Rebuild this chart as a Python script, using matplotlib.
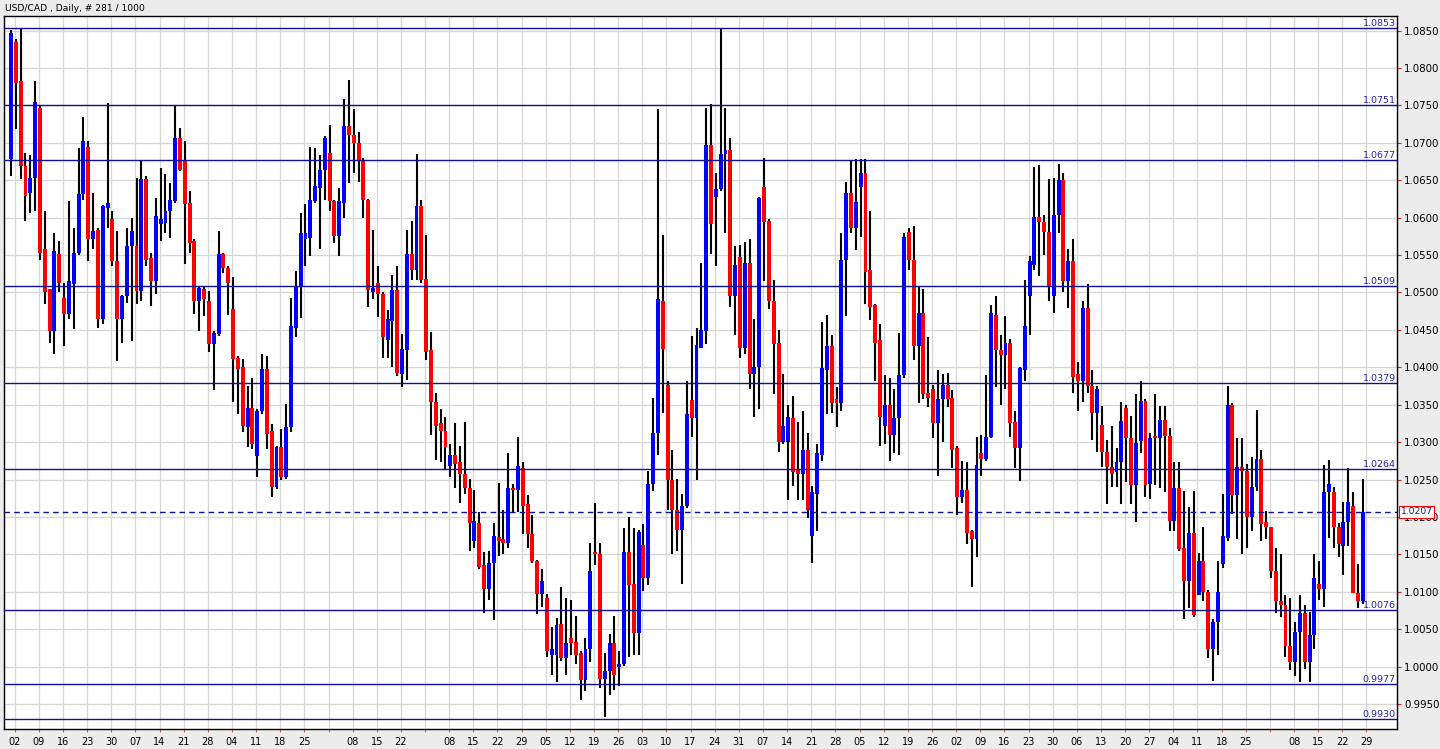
import numpy as np
import matplotlib
matplotlib.use("Agg")
import matplotlib.pyplot as plt

# USD/CAD daily bars (281)
opens = [
    1.0678, 1.0835, 1.0782, 1.0669, 1.0633, 1.0653, 1.0746, 1.0558, 1.0504, 1.0449,
    1.0551, 1.0493, 1.0471, 1.0511, 1.0553, 1.0631, 1.0695, 1.0571, 1.0584, 1.0464,
    1.0613, 1.0598, 1.0542, 1.0464, 1.0495, 1.0562, 1.0562, 1.0502, 1.0651, 1.0546,
    1.0515, 1.0591, 1.0593, 1.0609, 1.0622, 1.0706, 1.0675, 1.0620, 1.0569, 1.0489,
    1.0504, 1.0489, 1.0431, 1.0444, 1.0551, 1.0533, 1.0478, 1.0413, 1.0400, 1.0320,
    1.0346, 1.0282, 1.0342, 1.0398, 1.0315, 1.0240, 1.0293, 1.0253, 1.0320, 1.0453,
    1.0509, 1.0571, 1.0573, 1.0622, 1.0640, 1.0664, 1.0686, 1.0622, 1.0575, 1.0620,
    1.0722, 1.0711, 1.0700, 1.0677, 1.0623, 1.0501, 1.0513, 1.0498, 1.0437, 1.0462,
    1.0503, 1.0391, 1.0423, 1.0552, 1.0530, 1.0616, 1.0518, 1.0423, 1.0354, 1.0325,
    1.0315, 1.0268, 1.0283, 1.0273, 1.0258, 1.0239, 1.0168, 1.0192, 1.0136, 1.0104,
    1.0138, 1.0173, 1.0170, 1.0165, 1.0239, 1.0236, 1.0266, 1.0217, 1.0177, 1.0141,
    1.0097, 1.0092, 1.0016, 1.0016, 1.0057, 1.0011, 1.0038, 1.0033, 1.0018, 0.9982,
    1.0023, 1.0153, 1.0151, 0.9984, 0.9994, 1.0031, 0.9999, 1.0004, 1.0153, 1.0111,
    1.0045, 1.0163, 1.0119, 1.0244, 1.0312, 1.0489, 1.0376, 1.0249, 1.0209, 1.0182,
    1.0214, 1.0356, 1.0332, 1.0426, 1.0448, 1.0697, 1.0628, 1.0638, 1.0685, 1.0690,
    1.0495, 1.0547, 1.0426, 1.0539, 1.0391, 1.0401, 1.0641, 1.0596, 1.0488, 1.0433,
    1.0300, 1.0300, 1.0332, 1.0263, 1.0258, 1.0290, 1.0174, 1.0231, 1.0283, 1.0396,
    1.0428, 1.0357, 1.0352, 1.0544, 1.0633, 1.0586, 1.0641, 1.0660, 1.0530, 1.0483,
    1.0436, 1.0322, 1.0349, 1.0310, 1.0332, 1.0389, 1.0581, 1.0544, 1.0428, 1.0473,
    1.0366, 1.0371, 1.0325, 1.0357, 1.0376, 1.0359, 1.0292, 1.0226, 1.0236, 1.0181,
    1.0171, 1.0285, 1.0278, 1.0307, 1.0470, 1.0423, 1.0416, 1.0433, 1.0327, 1.0292,
    1.0396, 1.0495, 1.0537, 1.0601, 1.0594, 1.0581, 1.0495, 1.0603, 1.0650, 1.0515,
    1.0542, 1.0391, 1.0382, 1.0479, 1.0375, 1.0339, 1.0323, 1.0287, 1.0267, 1.0260,
    1.0274, 1.0346, 1.0305, 1.0242, 1.0301, 1.0355, 1.0244, 1.0308, 1.0305, 1.0330,
    1.0308, 1.0195, 1.0238, 1.0159, 1.0114, 1.0179, 1.0096, 1.0141, 1.0100, 1.0024,
    1.0060, 1.0137, 1.0172, 1.0350, 1.0229, 1.0267, 1.0261, 1.0200, 1.0240, 1.0278,
    1.0193, 1.0186, 1.0128, 1.0087, 1.0082, 1.0028, 1.0006, 1.0046, 1.0071, 1.0006,
    1.0042, 1.0110, 1.0104, 1.0233, 1.0233, 1.0186, 1.0161, 1.0193, 1.0215, 1.0099, 1.0087,
]
highs = [
    1.0851, 1.0838, 1.0853, 1.0686, 1.0684, 1.0783, 1.0751, 1.0609, 1.0504, 1.0580,
    1.0569, 1.0513, 1.0622, 1.0586, 1.0693, 1.0735, 1.0702, 1.0633, 1.0586, 1.0617,
    1.0753, 1.0609, 1.0582, 1.0497, 1.0586, 1.0600, 1.0653, 1.0675, 1.0655, 1.0553,
    1.0626, 1.0666, 1.0658, 1.0646, 1.0749, 1.0720, 1.0702, 1.0635, 1.0572, 1.0508,
    1.0507, 1.0502, 1.0448, 1.0582, 1.0553, 1.0535, 1.0520, 1.0415, 1.0411, 1.0375,
    1.0386, 1.0344, 1.0418, 1.0415, 1.0324, 1.0295, 1.0318, 1.0351, 1.0493, 1.0529,
    1.0606, 1.0618, 1.0695, 1.0693, 1.0684, 1.0709, 1.0724, 1.0624, 1.0640, 1.0758,
    1.0784, 1.0745, 1.0715, 1.0680, 1.0625, 1.0584, 1.0535, 1.0501, 1.0476, 1.0523,
    1.0535, 1.0445, 1.0584, 1.0596, 1.0685, 1.0623, 1.0577, 1.0447, 1.0366, 1.0344,
    1.0334, 1.0298, 1.0325, 1.0295, 1.0327, 1.0251, 1.0236, 1.0207, 1.0153, 1.0155,
    1.0192, 1.0246, 1.0209, 1.0285, 1.0244, 1.0307, 1.0273, 1.0229, 1.0202, 1.0143,
    1.0131, 1.0097, 1.0053, 1.0065, 1.0106, 1.0092, 1.0089, 1.0067, 1.0021, 1.0038,
    1.0165, 1.0219, 1.0165, 1.0018, 1.0043, 1.0067, 1.0021, 1.0185, 1.0200, 1.0185,
    1.0182, 1.0190, 1.0261, 1.0359, 1.0745, 1.0577, 1.0381, 1.0290, 1.0251, 1.0231,
    1.0381, 1.0442, 1.0452, 1.0539, 1.0747, 1.0752, 1.0660, 1.0853, 1.0747, 1.0707,
    1.0562, 1.0564, 1.0567, 1.0572, 1.0465, 1.0628, 1.0680, 1.0598, 1.0517, 1.0450,
    1.0391, 1.0349, 1.0362, 1.0327, 1.0342, 1.0312, 1.0241, 1.0297, 1.0460, 1.0470,
    1.0443, 1.0374, 1.0579, 1.0648, 1.0675, 1.0678, 1.0678, 1.0678, 1.0609, 1.0485,
    1.0458, 1.0389, 1.0386, 1.0371, 1.0446, 1.0579, 1.0586, 1.0589, 1.0507, 1.0505,
    1.0441, 1.0376, 1.0396, 1.0391, 1.0393, 1.0369, 1.0295, 1.0275, 1.0273, 1.0183,
    1.0307, 1.0310, 1.0389, 1.0483, 1.0495, 1.0443, 1.0468, 1.0438, 1.0342, 1.0401,
    1.0517, 1.0549, 1.0668, 1.0670, 1.0603, 1.0651, 1.0653, 1.0672, 1.0660, 1.0558,
    1.0572, 1.0407, 1.0488, 1.0511, 1.0396, 1.0375, 1.0348, 1.0303, 1.0321, 1.0292,
    1.0353, 1.0350, 1.0335, 1.0364, 1.0382, 1.0357, 1.0312, 1.0364, 1.0348, 1.0348,
    1.0319, 1.0274, 1.0274, 1.0235, 1.0213, 1.0235, 1.0152, 1.0186, 1.0102, 1.0064,
    1.0141, 1.0231, 1.0375, 1.0352, 1.0305, 1.0305, 1.0271, 1.0280, 1.0343, 1.0289,
    1.0208, 1.0186, 1.0159, 1.0150, 1.0096, 1.0091, 1.0060, 1.0096, 1.0082, 1.0073,
    1.0150, 1.0141, 1.0269, 1.0276, 1.0240, 1.0192, 1.0220, 1.0266, 1.0233, 1.0137, 1.0251,
]
lows = [
    1.0655, 1.0718, 1.0651, 1.0595, 1.0606, 1.0609, 1.0544, 1.0484, 1.0433, 1.0418,
    1.0500, 1.0429, 1.0464, 1.0451, 1.0550, 1.0624, 1.0542, 1.0558, 1.0453, 1.0458,
    1.0586, 1.0535, 1.0409, 1.0433, 1.0486, 1.0435, 1.0484, 1.0489, 1.0535, 1.0482,
    1.0498, 1.0569, 1.0580, 1.0573, 1.0620, 1.0662, 1.0538, 1.0553, 1.0471, 1.0449,
    1.0469, 1.0420, 1.0369, 1.0442, 1.0526, 1.0470, 1.0353, 1.0338, 1.0313, 1.0293,
    1.0291, 1.0253, 1.0338, 1.0291, 1.0226, 1.0237, 1.0249, 1.0251, 1.0313, 1.0440,
    1.0466, 1.0535, 1.0549, 1.0620, 1.0558, 1.0624, 1.0609, 1.0566, 1.0549, 1.0600,
    1.0646, 1.0660, 1.0648, 1.0599, 1.0481, 1.0491, 1.0467, 1.0413, 1.0413, 1.0400,
    1.0388, 1.0373, 1.0383, 1.0516, 1.0516, 1.0513, 1.0410, 1.0310, 1.0276, 1.0273,
    1.0263, 1.0253, 1.0239, 1.0219, 1.0231, 1.0155, 1.0158, 1.0131, 1.0072, 1.0089,
    1.0062, 1.0148, 1.0151, 1.0158, 1.0207, 1.0207, 1.0177, 1.0158, 1.0138, 1.0070,
    1.0079, 1.0013, 0.9989, 0.9979, 1.0008, 0.9989, 1.0016, 1.0004, 0.9955, 0.9967,
    1.0006, 1.0136, 0.9972, 0.9932, 0.9962, 0.9969, 0.9974, 1.0001, 1.0013, 1.0016,
    1.0016, 1.0101, 1.0109, 1.0234, 1.0283, 1.0339, 1.0209, 1.0151, 1.0155, 1.0111,
    1.0212, 1.0307, 1.0249, 1.0426, 1.0431, 1.0552, 1.0535, 1.0636, 1.0579, 1.0480,
    1.0443, 1.0413, 1.0418, 1.0371, 1.0334, 1.0344, 1.0515, 1.0478, 1.0364, 1.0287,
    1.0297, 1.0223, 1.0241, 1.0223, 1.0223, 1.0199, 1.0139, 1.0181, 1.0275, 1.0337,
    1.0339, 1.0320, 1.0342, 1.0468, 1.0579, 1.0557, 1.0574, 1.0485, 1.0463, 1.0381,
    1.0295, 1.0297, 1.0275, 1.0285, 1.0283, 1.0386, 1.0530, 1.0410, 1.0352, 1.0357,
    1.0347, 1.0305, 1.0255, 1.0300, 1.0347, 1.0265, 1.0203, 1.0218, 1.0164, 1.0107,
    1.0147, 1.0255, 1.0275, 1.0305, 1.0374, 1.0349, 1.0371, 1.0307, 1.0265, 1.0248,
    1.0381, 1.0443, 1.0530, 1.0522, 1.0550, 1.0488, 1.0472, 1.0580, 1.0500, 1.0479,
    1.0366, 1.0342, 1.0353, 1.0366, 1.0303, 1.0287, 1.0267, 1.0217, 1.0240, 1.0240,
    1.0217, 1.0247, 1.0217, 1.0193, 1.0285, 1.0226, 1.0224, 1.0242, 1.0238, 1.0233,
    1.0181, 1.0181, 1.0154, 1.0064, 1.0078, 1.0066, 1.0096, 1.0087, 1.0012, 0.9981,
    1.0015, 1.0132, 1.0168, 1.0204, 1.0170, 1.0150, 1.0159, 1.0181, 1.0235, 1.0168,
    1.0170, 1.0119, 1.0071, 1.0066, 1.0013, 0.9996, 0.9988, 0.9979, 0.9997, 0.9979,
    1.0024, 1.0089, 1.0080, 1.0172, 1.0159, 1.0146, 1.0123, 1.0161, 1.0098, 1.0078, 1.0084,
]
closes = [
    1.0847, 1.0780, 1.0669, 1.0629, 1.0653, 1.0755, 1.0553, 1.0500, 1.0449, 1.0555,
    1.0513, 1.0471, 1.0515, 1.0553, 1.0631, 1.0702, 1.0571, 1.0582, 1.0464, 1.0615,
    1.0620, 1.0542, 1.0464, 1.0495, 1.0562, 1.0582, 1.0502, 1.0651, 1.0544, 1.0515,
    1.0602, 1.0598, 1.0609, 1.0624, 1.0706, 1.0664, 1.0618, 1.0566, 1.0489, 1.0506,
    1.0491, 1.0431, 1.0446, 1.0551, 1.0533, 1.0513, 1.0411, 1.0398, 1.0322, 1.0346,
    1.0298, 1.0342, 1.0398, 1.0311, 1.0240, 1.0293, 1.0253, 1.0320, 1.0455, 1.0509,
    1.0580, 1.0580, 1.0624, 1.0642, 1.0664, 1.0706, 1.0622, 1.0575, 1.0622, 1.0722,
    1.0711, 1.0700, 1.0677, 1.0623, 1.0503, 1.0506, 1.0498, 1.0440, 1.0464, 1.0503,
    1.0393, 1.0425, 1.0552, 1.0530, 1.0616, 1.0516, 1.0420, 1.0354, 1.0322, 1.0315,
    1.0293, 1.0283, 1.0271, 1.0258, 1.0239, 1.0192, 1.0195, 1.0133, 1.0104, 1.0138,
    1.0175, 1.0168, 1.0165, 1.0239, 1.0236, 1.0268, 1.0214, 1.0177, 1.0141, 1.0097,
    1.0114, 1.0021, 1.0023, 1.0055, 1.0011, 1.0031, 1.0031, 1.0016, 0.9982, 1.0023,
    1.0128, 1.0151, 0.9984, 0.9994, 1.0031, 0.9989, 1.0004, 1.0153, 1.0109, 1.0045,
    1.0180, 1.0119, 1.0244, 1.0312, 1.0491, 1.0425, 1.0249, 1.0209, 1.0182, 1.0214,
    1.0337, 1.0332, 1.0430, 1.0450, 1.0697, 1.0591, 1.0638, 1.0685, 1.0690, 1.0495,
    1.0537, 1.0426, 1.0539, 1.0391, 1.0401, 1.0626, 1.0594, 1.0488, 1.0431, 1.0300,
    1.0322, 1.0334, 1.0260, 1.0258, 1.0290, 1.0209, 1.0233, 1.0285, 1.0399, 1.0428,
    1.0352, 1.0352, 1.0544, 1.0633, 1.0586, 1.0621, 1.0660, 1.0527, 1.0480, 1.0433,
    1.0334, 1.0349, 1.0310, 1.0332, 1.0389, 1.0574, 1.0544, 1.0428, 1.0473, 1.0364,
    1.0359, 1.0325, 1.0357, 1.0376, 1.0357, 1.0290, 1.0226, 1.0236, 1.0179, 1.0171,
    1.0270, 1.0278, 1.0307, 1.0473, 1.0423, 1.0416, 1.0433, 1.0325, 1.0292, 1.0399,
    1.0455, 1.0542, 1.0601, 1.0594, 1.0581, 1.0509, 1.0603, 1.0650, 1.0515, 1.0542,
    1.0387, 1.0382, 1.0479, 1.0375, 1.0339, 1.0371, 1.0287, 1.0267, 1.0258, 1.0274,
    1.0328, 1.0305, 1.0242, 1.0299, 1.0355, 1.0242, 1.0305, 1.0305, 1.0330, 1.0308,
    1.0195, 1.0238, 1.0157, 1.0114, 1.0179, 1.0069, 1.0141, 1.0100, 1.0024, 1.0060,
    1.0100, 1.0175, 1.0350, 1.0229, 1.0267, 1.0261, 1.0200, 1.0240, 1.0278, 1.0191,
    1.0186, 1.0128, 1.0087, 1.0082, 1.0028, 1.0006, 1.0046, 1.0071, 1.0006, 1.0042,
    1.0118, 1.0104, 1.0233, 1.0244, 1.0186, 1.0164, 1.0193, 1.0220, 1.0099, 1.0087, 1.0207,
]

# weekly date labels (Mondays); blank where the 1st of a month fell
week_labels = [
    "02", "09", "16", "23", "30", "07", "14", "21", "28", "04", "11", "18", "25", "",
    "08", "15", "22", "", "08", "15", "22", "29", "05", "12", "19", "26", "03", "10",
    "17", "24", "31", "07", "14", "21", "28", "05", "12", "19", "26", "02", "09", "16",
    "23", "30", "06", "13", "20", "27", "04", "11", "18", "25", "", "08", "15", "22", "29",
]

levels = [1.0853, 1.0751, 1.0677, 1.0509, 1.0379, 1.0264, 1.0076, 0.9977, 0.9930]
last_price = 1.0207
title = "USD/CAD , Daily, # 281 / 1000"

o = np.array(opens)
c = np.array(closes)
hi = np.maximum(np.array(highs), np.maximum(o, c))
lo = np.minimum(np.array(lows), np.minimum(o, c))
x = np.arange(len(o))

navy = "#10109A"
fig = plt.figure(figsize=(14.4, 7.49), dpi=100, facecolor="#ECECEC")
ax = fig.add_axes([4 / 1440, 20 / 749, 1393 / 1440, 713 / 749])
ax.set_facecolor("white")

# wicks then bodies
ax.vlines(x, lo, hi, color="black", lw=1.5, zorder=2)
up = c >= o
body = np.maximum(np.abs(c - o), 0.00012)
bottom = np.minimum(o, c)
ax.bar(x[up], body[up], bottom=bottom[up], width=0.82, color="#0000FF", zorder=2.5)
ax.bar(x[~up], body[~up], bottom=bottom[~up], width=0.82, color="#FF0000", zorder=2.5)

# horizontal levels with their price tags
ytr = ax.get_yaxis_transform()
for lv in levels:
    ax.axhline(lv, color=navy, lw=1.0, zorder=3)
    ax.text(0.999, lv, f"{lv:.4f}", transform=ytr, ha="right", va="bottom",
            color="#2020B8", fontsize=6.8, zorder=4)

ax.axhline(last_price, color=navy, lw=1.0, ls=(0, (4, 3)), zorder=3)
ax.text(1.0025, last_price, f"{last_price:.4f}", transform=ytr, ha="left", va="center",
        color=navy, fontsize=6.6, zorder=5, clip_on=False,
        bbox=dict(boxstyle="square,pad=0.15", fc="white", ec="red", lw=0.8))

ax.set_xlim(-1.45, 287.1)
ax.set_ylim(0.99166, 1.08694)

yt = np.round(np.arange(0.9950, 1.0851, 0.005), 4)
ax.yaxis.tick_right()
ax.set_yticks(yt)
ax.set_yticklabels([f"{v:.4f}" for v in yt])
ax.set_xticks(0.77 + 5 * np.arange(len(week_labels)))
ax.set_xticklabels(week_labels)

ax.tick_params(axis="y", direction="out", length=3, color="#D02020", labelcolor="black",
               labelsize=7.4, pad=2)
ax.tick_params(axis="x", direction="out", length=2.5, color="#D06060", labelcolor="black",
               labelsize=7.0, pad=3)

ax.grid(True, color="#D6D6D6", lw=0.9, zorder=0)
ax.set_axisbelow(True)
for s in ax.spines.values():
    s.set_color("black")
    s.set_linewidth(1.0)

fig.text(5 / 1440, 1 - 8.5 / 749, title, ha="left", va="center", fontsize=6.6, color="black")

fig.savefig("out.png", dpi=100, facecolor=fig.get_facecolor())
